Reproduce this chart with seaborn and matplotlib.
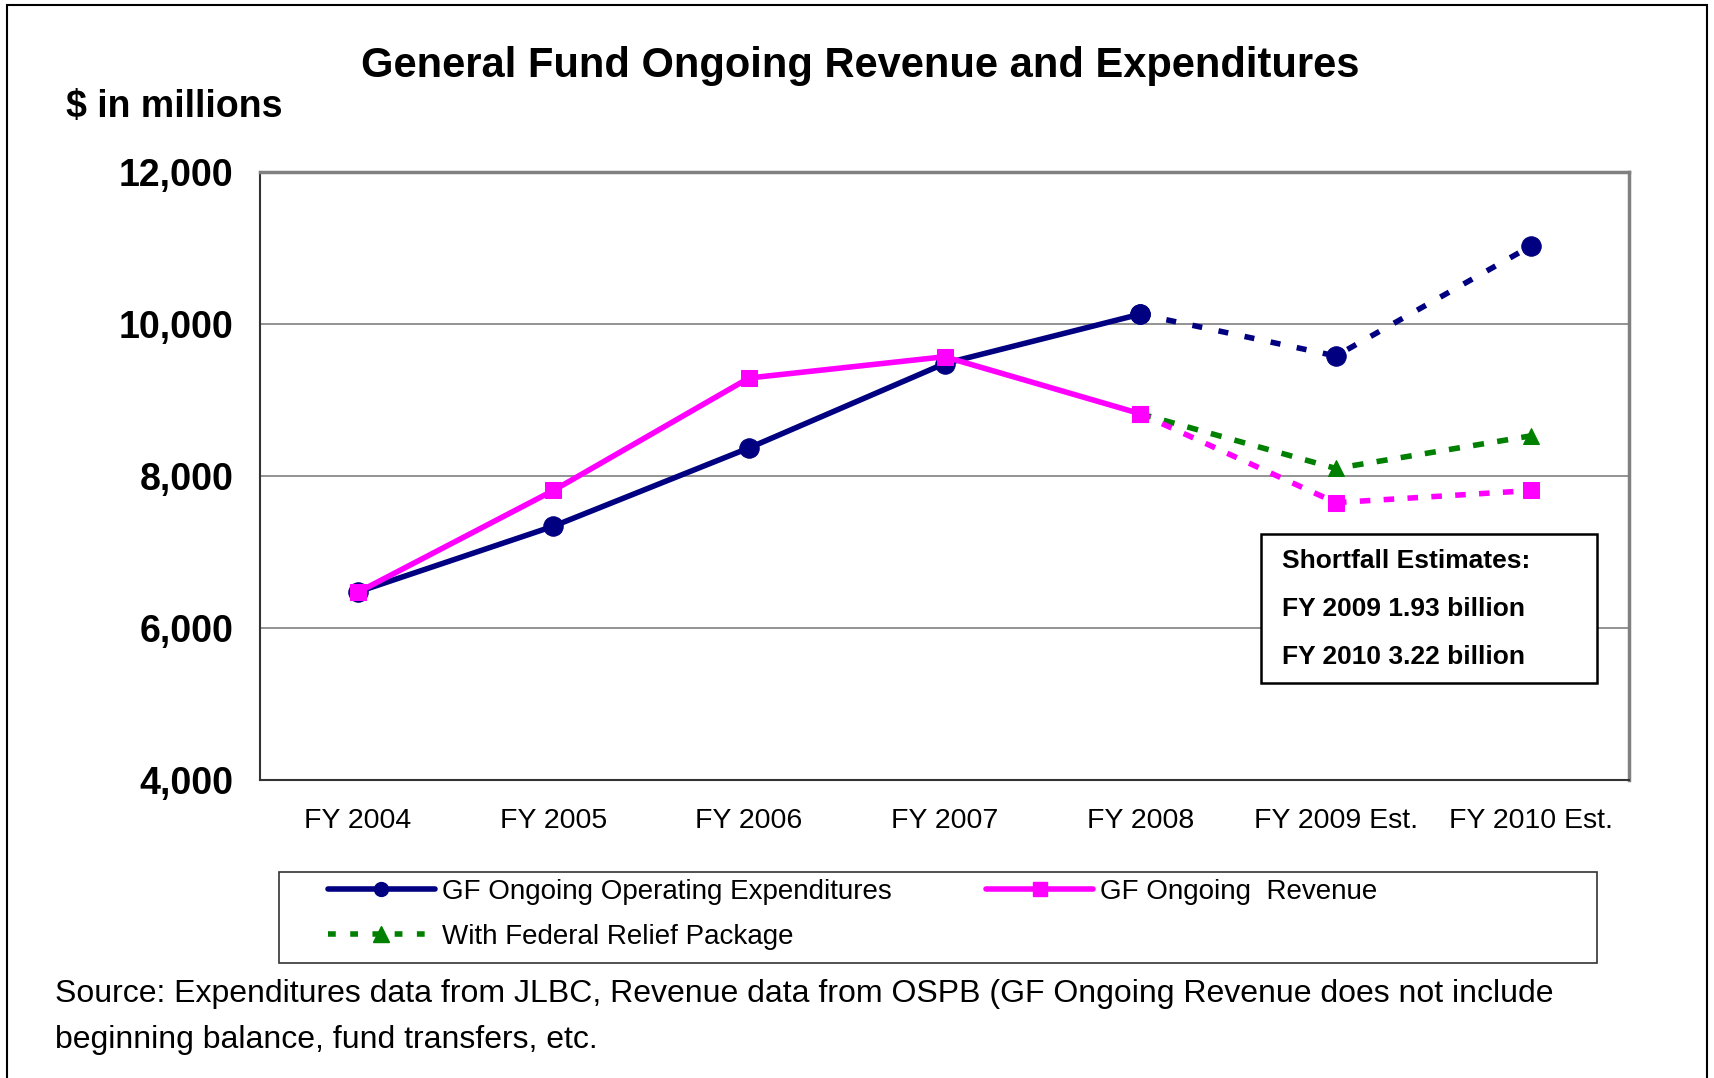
import matplotlib
matplotlib.use("Agg")
import numpy as np
import pandas as pd
import seaborn as sns
import matplotlib.pyplot as plt
from matplotlib.lines import Line2D
from matplotlib.patches import Rectangle

# chart data ($ in millions)
years = ["FY 2004", "FY 2005", "FY 2006", "FY 2007", "FY 2008",
         "FY 2009 Est.", "FY 2010 Est."]
expenditures = [6475, 7340, 8370, 9480, 10130, 9580, 11030]
revenue = [6470, 7810, 9290, 9570, 8820, 7650, 7810]
relief_years = ["FY 2008", "FY 2009 Est.", "FY 2010 Est."]
federal_relief = [8820, 8100, 8530]
y_ticks = [4000, 6000, 8000, 10000, 12000]
shortfall_lines = ["Shortfall Estimates:", "FY 2009 1.93 billion", "FY 2010 3.22 billion"]

NAVY = "#000080"
MAGENTA = "#FF00FF"
GREEN = "#008000"

sns.set_style("white")
plt.rcParams["font.family"] = ["Liberation Sans", "DejaVu Sans"]
plt.rcParams["text.color"] = "black"
plt.rcParams["xtick.color"] = "black"
plt.rcParams["ytick.color"] = "black"

pos = {name: i for i, name in enumerate(years)}
df = pd.DataFrame({"x": range(len(years)), "exp": expenditures, "rev": revenue})
actual = df.iloc[:5]
estimate = df.iloc[4:]
relief = pd.DataFrame({"x": [pos[y] for y in relief_years], "val": federal_relief})

fig = plt.figure(figsize=(17.15, 10.78), dpi=100)
ax = fig.add_axes([0.1516, 0.2764, 0.7984, 0.564])

LW = 4.0
# dashed estimate segments first so markers of actuals sit on top
l = sns.lineplot(data=relief, x="x", y="val", ax=ax, color=GREEN, lw=LW,
                 marker="^", markersize=12, markeredgecolor=GREEN, sort=False).lines[-1]
l.set_dashes([2.0, 2.4])
l = sns.lineplot(data=estimate, x="x", y="rev", ax=ax, color=MAGENTA, lw=LW,
                 marker="s", markersize=11, markeredgecolor=MAGENTA, sort=False).lines[-1]
l.set_dashes([1.9, 2.4])
l = sns.lineplot(data=estimate, x="x", y="exp", ax=ax, color=NAVY, lw=LW,
                 marker="o", markersize=14, markeredgecolor=NAVY, sort=False).lines[-1]
l.set_dashes([1.8, 3.0])

sns.lineplot(data=actual, x="x", y="exp", ax=ax, color=NAVY, lw=LW,
             marker="o", markersize=14, markeredgecolor=NAVY, sort=False)
sns.lineplot(data=actual, x="x", y="rev", ax=ax, color=MAGENTA, lw=LW,
             marker="s", markersize=11, markeredgecolor=MAGENTA, sort=False)

ax.set_xlim(-0.5, len(years) - 0.5)
ax.set_ylim(4000, 12000)
ax.set_yticks(y_ticks)
ax.set_yticklabels([f"{v:,}" for v in y_ticks], fontsize=27, fontweight="bold")
ax.yaxis.grid(True, color="#808080", lw=1.2)
ax.set_axisbelow(True)

ax.set_xticks(np.arange(-0.5, len(years)), minor=False)
ax.set_xticklabels([])
ax.set_xticks(range(len(years)), minor=True)
ax.set_xticklabels(years, minor=True, fontsize=20.5)
ax.tick_params(axis="x", which="minor", length=0, pad=20)
ax.tick_params(axis="x", which="major", direction="out", length=7, width=1.2, color="#333333")
ax.tick_params(axis="y", direction="out", length=7, width=1.2, color="#333333", pad=12)
ax.set_xlabel("")
ax.set_ylabel("")

for side in ["left", "bottom"]:
    ax.spines[side].set_color("#333333")
    ax.spines[side].set_linewidth(1.5)
for side in ["top", "right"]:
    ax.spines[side].set_color("#808080")
    ax.spines[side].set_linewidth(2.5)

# shortfall annotation box
box = Rectangle((1261 / 1715, 1 - 683 / 1078), 336 / 1715, 149 / 1078,
                transform=fig.transFigure, fill=True, facecolor="white",
                edgecolor="black", lw=1.8, zorder=5)
fig.patches.append(box)
for i, line in enumerate(shortfall_lines):
    fig.text(1282 / 1715, 1 - (561 + 48 * i) / 1078, line, fontsize=19,
             fontweight="bold", va="center", ha="left", zorder=6)

# legend: frame drawn separately, entries placed inside it
leg_frame = Rectangle((279 / 1715, 1 - 963 / 1078), 1318 / 1715, 91 / 1078,
                      transform=fig.transFigure, fill=False,
                      edgecolor="#333333", lw=1.2)
fig.patches.append(leg_frame)
handles = [
    Line2D([], [], color=NAVY, lw=LW, marker="o", markersize=10),
    Line2D([], [], color=GREEN, lw=LW, marker="^", markersize=12, dashes=[1.4, 2.6]),
    Line2D([], [], color=MAGENTA, lw=LW, marker="s", markersize=10),
]
labels = ["GF Ongoing Operating Expenditures", "With Federal Relief Package",
          "GF Ongoing  Revenue"]
leg = fig.legend(handles, labels, ncol=2, loc="upper left",
                 bbox_to_anchor=(328 / 1715, 1 - 879 / 1078),
                 fontsize=20, frameon=False,
                 handlelength=3.85, handletextpad=0.25, labelspacing=0.68,
                 borderpad=0, borderaxespad=0, columnspacing=3.4)

# titles and source note
fig.text(860 / 1715, 1 - 66 / 1078, "General Fund Ongoing Revenue and Expenditures",
         fontsize=30, fontweight="bold", ha="center", va="center")
fig.text(66 / 1715, 1 - 107 / 1078, "$ in millions", fontsize=27,
         fontweight="bold", ha="left", va="center")
fig.text(55 / 1715, 1 - 994 / 1078,
         "Source: Expenditures data from JLBC, Revenue data from OSPB (GF Ongoing Revenue does not include",
         fontsize=23, ha="left", va="center")
fig.text(55 / 1715, 1 - 1040 / 1078, "beginning balance, fund transfers, etc.",
         fontsize=23, ha="left", va="center")

# outer frame of the chart
frame = Rectangle((7 / 1715, -0.01), 1700 / 1715, 1 - 5 / 1078 + 0.01,
                  transform=fig.transFigure, fill=False, edgecolor="black", lw=1.5)
fig.patches.append(frame)

fig.savefig("out.png", dpi=100)
